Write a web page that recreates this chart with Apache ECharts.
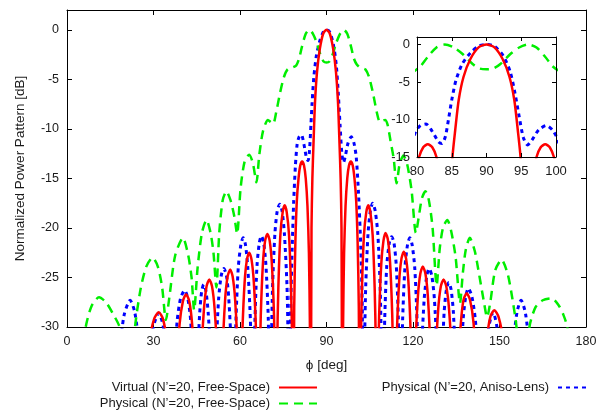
<!DOCTYPE html>
<html><head><meta charset="utf-8">
<script src="https://cdn.jsdelivr.net/npm/echarts@6/dist/echarts.min.js"></script>
<style>html,body{margin:0;padding:0;background:#fff}#c{width:609px;height:415px}</style>
</head><body><div id="c"></div>
<script>
// Series names
const seriesNames = ['Virtual (N’=20, Free-Space)', 'Physical (N’=20, Free-Space)', 'Physical (N’=20, Aniso-Lens)'];

// Tick labels
const mainXTicks = [0, 30, 60, 90, 120, 150, 180];
const mainYTicks = [-30, -25, -20, -15, -10, -5, 0];
const insetXTicks = [80, 85, 90, 95, 100];
const insetYTicks = [-15, -10, -5, 0];

// Virtual (N'=20, Free-Space) [phi deg, dB]
const virtualFS = [
[25.84,-45],[27.2,-36.8],[28.6,-31.5],[30.2,-29.2],[31.8,-28.5],[33.3,-29.2],[34.6,-31.5],[35.7,-36.8],[36.87,-45],
[37.95,-35],[39.05,-29.7],[40.2,-27.4],[41.3,-26.7],[42.4,-27.4],[43.4,-29.7],[44.5,-35],[45.57,-45],
[46.5,-33.5],[47.5,-28.2],[48.4,-25.9],[49.35,-25.2],[50.3,-25.9],[51.2,-28.2],[52.2,-33.5],[53.13,-45],
[54.0,-32.5],[54.85,-27.2],[55.7,-24.9],[56.6,-24.2],[57.45,-24.9],[58.3,-27.2],[59.15,-32.5],[60,-45],
[60.4,-36.7],[60.8,-30.8],[61.6,-25.5],[62.4,-23.2],[63.2,-22.5],[64.0,-23.2],[64.8,-25.5],[65.6,-30.8],[66.0,-36.7],[66.42,-45],
[66.8,-34.8],[67.2,-28.9],[67.95,-23.6],[68.7,-21.3],[69.5,-20.6],[70.3,-21.3],[71.05,-23.6],[71.8,-28.9],[72.15,-34.8],[72.54,-45],
[72.9,-31.9],[73.3,-26],[74.0,-20.7],[74.8,-18.4],[75.5,-17.7],[76.2,-18.4],[77.0,-20.7],[77.7,-26],[78.1,-31.9],[78.46,-45],
[78.8,-28],[79.2,-21.5],[79.7,-17.3],[80.3,-15.0],[80.9,-13.7],[81.55,-13.3],[82.2,-13.7],[82.8,-15.0],[83.4,-17.8],[83.9,-22.5],[84.25,-30],[84.5,-45],
[84.8,-20],[85.1,-15],[85.5,-11.4],[86.0,-7.4],[86.7,-4.3],[87.7,-1.9],[88.9,-0.35],[90,0],[91.1,-0.35],[92.3,-1.9],[93.3,-4.3],[94.0,-7.4],[94.5,-11.4],[94.9,-15],[95.2,-20],[95.5,-45],
[95.75,-30],[96.1,-22.5],[96.6,-17.8],[97.2,-15],[97.8,-13.7],[98.45,-13.3],[99.1,-13.7],[99.7,-15],[100.3,-17.3],[100.8,-21.5],[101.2,-28],[101.54,-45],
[101.9,-31.9],[102.3,-26],[103.0,-20.7],[103.8,-18.4],[104.5,-17.7],[105.2,-18.4],[106.0,-20.7],[106.7,-26],[107.1,-31.9],[107.46,-45],
[107.85,-34.8],[108.25,-28.9],[109.0,-23.6],[109.75,-21.3],[110.5,-20.5],[111.3,-21.2],[112.05,-23.5],[112.8,-28.8],[113.2,-34.7],[113.58,-45],
[114.0,-36.6],[114.4,-30.7],[115.2,-25.4],[116.0,-23.1],[116.8,-22.4],[117.6,-23.1],[118.4,-25.4],[119.2,-30.7],[119.6,-36.6],[120,-45],
[120.85,-32.2],[121.7,-26.9],[122.55,-24.6],[123.4,-23.9],[124.3,-24.6],[125.15,-26.9],[126.0,-32.2],[126.87,-45],
[127.8,-33.5],[128.75,-28.2],[129.65,-25.9],[130.6,-25.2],[131.55,-25.9],[132.5,-28.2],[133.5,-33.5],[134.43,-45],
[135.5,-34.9],[136.6,-29.6],[137.5,-27.3],[138.6,-26.6],[139.8,-27.3],[141.0,-29.6],[142.1,-34.9],[143.13,-45],
[144.4,-36.6],[145.6,-31.3],[146.8,-29.0],[148.2,-28.3],[149.7,-29.0],[151.2,-31.3],[152.6,-36.6],[154.16,-45]
];

// Physical (N'=20, Free-Space)
const physicalFS = [
[0,-45],[3.5,-36],[6.5,-30],[8.5,-27.9],[11.1,-27.0],[13.5,-27.5],[16,-28.7],[18.2,-30],[20.5,-35],[21.5,-40],[22.5,-35],[23.6,-30],
[25.5,-26.2],[27.5,-23.9],[29.7,-23.0],[31.5,-23.9],[33,-26],[34.3,-29.3],[35.5,-27],[37.5,-22.8],[40.2,-21.0],[42,-22.7],[43.2,-25],[44.1,-28.3],
[45.3,-24],[46.8,-20.5],[48.4,-19.2],[49.8,-20.5],[50.8,-22.5],[51.8,-26.0],[52.8,-20.5],[54,-17.2],[55.3,-16.3],[56.7,-17.2],[58,-18.8],[59.0,-20.6],
[60.2,-16],[61.6,-13.3],[63.2,-12.6],[64.5,-13.5],[65.7,-15.4],[66.7,-12.6],[68,-10.2],[69.7,-9.1],[70.6,-9.3],[71.5,-9.5],[72.5,-8.4],[73.8,-6.5],
[75.2,-4.8],[76.5,-4.0],[78.3,-3.8],[79.5,-3.6],[80.5,-2.9],[81.5,-1.7],[82.8,-0.4],[84,0],[85.3,-0.4],[86.6,-1.3],[88,-2.6],[89,-3.2],[90,-3.3],
[91,-3.2],[92,-2.6],[93.4,-1.3],[94.7,-0.4],[96,0],[97.2,-0.4],[98.5,-1.7],[99.5,-2.9],[100.5,-3.5],[101.7,-3.8],[103.5,-4.0],[104.8,-4.8],
[106.2,-6.5],[107.5,-8.4],[108.5,-9.3],[109.3,-9.2],[110.3,-9.1],[111.2,-9.6],[112.2,-11.2],[113.3,-13],[114.3,-15.5],[115.4,-13.5],[116.7,-12.7],
[118,-13.6],[119.5,-16.2],[121,-20.5],[122.2,-18.5],[123.1,-17.0],[124.3,-16.3],[125.5,-17.2],[126.8,-20],[128.2,-25.8],[129.3,-22],[130.4,-20],
[131.9,-19.2],[133.3,-20.4],[134.8,-23],[136.3,-27.6],[137.3,-24.5],[138.3,-22.2],[139.7,-21.0],[141.4,-22.3],[143,-24.8],[144.5,-27.3],[145.7,-29],
[146.8,-27.5],[148.5,-24.3],[150.7,-23.2],[152.8,-24.6],[154.5,-27.2],[155.9,-30],[157.5,-36],[158.5,-38],[159.5,-33],[160.5,-29.8],[162.5,-28.0],
[165,-27.3],[168.1,-27.1],[170.5,-27.8],[172.2,-28.8],[173.5,-30],[176,-36],[180,-45]
];

// Physical (N'=20, Aniso-Lens)
const physicalLens = [
[15,-45],[17,-40],[18.5,-32],[19.8,-28.8],[21.9,-27.3],[23.5,-28.5],[25,-32],[27,-42],
[28.5,-34],[29.8,-30.2],[31.8,-28.6],[33.3,-29.8],[34.6,-33],[36,-42],
[37.1,-34.5],[38.2,-29.4],[39.4,-27.1],[40.8,-26.3],[41.9,-27.1],[42.9,-29.4],[43.7,-34.5],[44.4,-42],
[45.2,-34],[46.0,-28.7],[46.7,-26.4],[47.4,-25.7],[48.2,-26.4],[49.0,-28.7],[50.0,-34],[50.8,-42],
[51.7,-32.4],[52.6,-27.1],[53.5,-24.8],[54.4,-24.1],[55.3,-24.8],[56.1,-27.1],[57.0,-32.4],[57.8,-42],
[58.2,-35],[58.6,-29.3],[59.4,-24],[60.3,-21.7],[61.1,-21.0],[61.9,-21.7],[62.7,-24],[63.6,-29.3],[64.0,-35],[64.4,-42],
[64.8,-35],[65.2,-29.1],[65.9,-23.8],[66.7,-21.5],[67.4,-20.8],[68.2,-21.5],[69.0,-23.8],[69.8,-29.1],[70.1,-35],[70.5,-42],
[70.9,-31.8],[71.3,-25.9],[72.1,-20.6],[72.9,-18.3],[73.8,-17.6],[74.6,-18.3],[75.4,-20.6],[76.3,-25.9],[76.7,-31.8],[77.2,-42],
[77.6,-28],[78.1,-22],[78.6,-17.5],[79.2,-13.8],[79.8,-11.6],[80.5,-10.8],[81.3,-10.6],[82.2,-11.6],[83.1,-13.0],[83.6,-13.2],[84.1,-12.2],
[84.6,-9.6],[85.0,-7.4],[85.6,-4.8],[86.5,-2.6],[87.7,-1.1],[89.0,-0.15],[90,0],[91.1,-0.2],[92.4,-1.5],[93.4,-3.6],[94.1,-6.5],[94.7,-9.6],
[95.3,-12.4],[95.9,-13.4],[96.5,-12.8],[97.5,-11.4],[98.6,-10.8],[99.5,-11.4],[100.3,-12.8],[101.1,-16.5],[101.9,-22],[102.4,-28],[102.8,-42],
[103.2,-31.8],[103.6,-25.9],[104.4,-20.6],[105.2,-18.3],[106.0,-17.5],[106.9,-18.3],[107.8,-20.6],[108.6,-25.9],[109.0,-31.8],[109.4,-42],
[109.8,-35],[110.2,-29.1],[110.9,-23.8],[111.8,-21.5],[112.6,-20.9],[113.4,-21.5],[114.2,-23.8],[114.9,-29.1],[115.2,-35],[115.6,-42],
[116.0,-35],[116.4,-29.3],[117.2,-24],[118.1,-21.7],[118.9,-21.0],[119.7,-21.7],[120.6,-24],[121.4,-29.3],[121.8,-35],[122.2,-42],
[123.0,-32.4],[123.9,-27.1],[124.8,-24.8],[125.6,-24.1],[126.5,-24.8],[127.4,-27.1],[128.3,-32.4],[129.2,-42],
[130.0,-34],[130.8,-28.5],[131.6,-26.2],[132.4,-25.5],[133.2,-26.2],[134.0,-28.5],[134.8,-34],[135.6,-42],
[136.6,-34],[137.4,-29.2],[138.3,-26.9],[139.2,-26.1],[140.4,-26.9],[141.6,-29.2],[142.8,-34],[144,-42],
[145.2,-34],[146.3,-30],[147.8,-28.5],[149.0,-29.8],[150.2,-33],[151.5,-42],
[153,-42],[154.8,-32],[156,-28.6],[157.5,-27.3],[159,-28.6],[160.3,-32],[162,-42],[165,-45]
];

const FONT = '"Liberation Sans", Arial, Helvetica, sans-serif';
const TXT = '#1a1a1a';
const colors = ['#ff0000', '#00ee00', '#0000ff'];
const styles = [
  {width: 2.5, type: 'solid'},
  {width: 2.5, type: [9, 6]},
  {width: 3, type: [4, 4]}
];
const datasets = [virtualFS, physicalFS, physicalLens];

function labelFrom(list) {
  return v => list.indexOf(Math.round(v * 1000) / 1000) >= 0 ? String(v) : '';
}

function axis(extra) {
  return Object.assign({
    type: 'value',
    axisLine: {show: true, onZero: false, lineStyle: {color: '#000', width: 1}},
    axisTick: {show: true, inside: true, length: 5, lineStyle: {color: '#000'}},
    splitLine: {show: false},
    axisLabel: {show: false}
  }, extra);
}

const chart = echarts.init(document.getElementById('c'), null, {renderer: 'canvas'});

const mainX = {min: 0, max: 180, interval: 30};
const mainY = {min: -30, max: 2, interval: 5};
const insX = {min: 80, max: 100, interval: 5};
const insY = {min: -15, max: 1, interval: 5};

const series = [];
for (let i = 0; i < 3; i++) {
  series.push({
    name: seriesNames[i], type: 'line', data: datasets[i],
    xAxisIndex: 0, yAxisIndex: 0, symbol: 'none', showSymbol: false,
    smooth: 0.25, clip: true, z: 3 - i + 2,
    lineStyle: Object.assign({color: colors[i]}, styles[i]),
    itemStyle: {color: colors[i]}
  });
}
for (let i = 0; i < 3; i++) {
  series.push({
    name: seriesNames[i], type: 'line', data: datasets[i],
    xAxisIndex: 2, yAxisIndex: 2, symbol: 'none', showSymbol: false,
    smooth: 0.25, clip: true, z: 20 - i,
    lineStyle: Object.assign({color: colors[i]}, styles[i]),
    itemStyle: {color: colors[i]}
  });
}

const legendBase = {
  orient: 'horizontal', align: 'right', padding: 0, itemHeight: 12,
  textStyle: {fontFamily: FONT, fontSize: 13, color: TXT, padding: [0, 4, 0, 0]},
  itemStyle: {color: 'rgba(0,0,0,0)', borderWidth: 0, opacity: 0},
  selectedMode: false
};

chart.setOption({
  animation: false,
  backgroundColor: '#fff',
  textStyle: {fontFamily: FONT},
  grid: [
    {left: 67, right: 23, top: 10, bottom: 88, show: false},
    {left: 417, top: 37, width: 139, height: 120, show: true, backgroundColor: '#fff', borderWidth: 0, z: 10}
  ],
  legend: [
    Object.assign({}, legendBase, {data: [seriesNames[0]], right: 291, top: 381, itemWidth: 38}),
    Object.assign({}, legendBase, {data: [seriesNames[1]], right: 291, top: 397, itemWidth: 38}),
    Object.assign({}, legendBase, {data: [seriesNames[2]], right: 18, top: 381, itemWidth: 32})
  ],
  xAxis: [
    axis(Object.assign({gridIndex: 0, position: 'bottom',
      name: 'ϕ [deg]', nameLocation: 'middle', nameGap: 31,
      nameTextStyle: {fontFamily: FONT, fontSize: 13.5, color: TXT},
      axisLabel: {show: true, margin: 8, fontFamily: FONT, fontSize: 12.5, color: TXT, formatter: labelFrom(mainXTicks)}}, mainX)),
    axis(Object.assign({gridIndex: 0, position: 'top'}, mainX)),
    axis(Object.assign({gridIndex: 1, position: 'bottom', z: 30, axisTick: {show: true, inside: true, length: 4, lineStyle: {color: '#000'}},
      axisLabel: {show: true, margin: 8, fontFamily: FONT, fontSize: 13, color: TXT, formatter: labelFrom(insetXTicks)}}, insX)),
    axis(Object.assign({gridIndex: 1, position: 'top', z: 30, axisTick: {show: true, inside: true, length: 4, lineStyle: {color: '#000'}}}, insX))
  ],
  yAxis: [
    axis(Object.assign({gridIndex: 0, position: 'left',
      name: 'Normalized Power Pattern [dB]', nameLocation: 'middle', nameGap: 40, nameRotate: 90,
      nameTextStyle: {fontFamily: FONT, fontSize: 13.5, color: TXT},
      axisLabel: {show: true, margin: 8, showMaxLabel: false, fontFamily: FONT, fontSize: 12.5, color: TXT, formatter: labelFrom(mainYTicks)}}, mainY)),
    axis(Object.assign({gridIndex: 0, position: 'right'}, mainY)),
    axis(Object.assign({gridIndex: 1, position: 'left', z: 30, axisTick: {show: true, inside: true, length: 4, lineStyle: {color: '#000'}},
      axisLabel: {show: true, margin: 7, showMaxLabel: false, fontFamily: FONT, fontSize: 13, color: TXT, formatter: labelFrom(insetYTicks)}}, insY)),
    axis(Object.assign({gridIndex: 1, position: 'right', z: 30, axisTick: {show: true, inside: true, length: 4, lineStyle: {color: '#000'}}}, insY))
  ],
  series: series
});
</script>
</body></html>
